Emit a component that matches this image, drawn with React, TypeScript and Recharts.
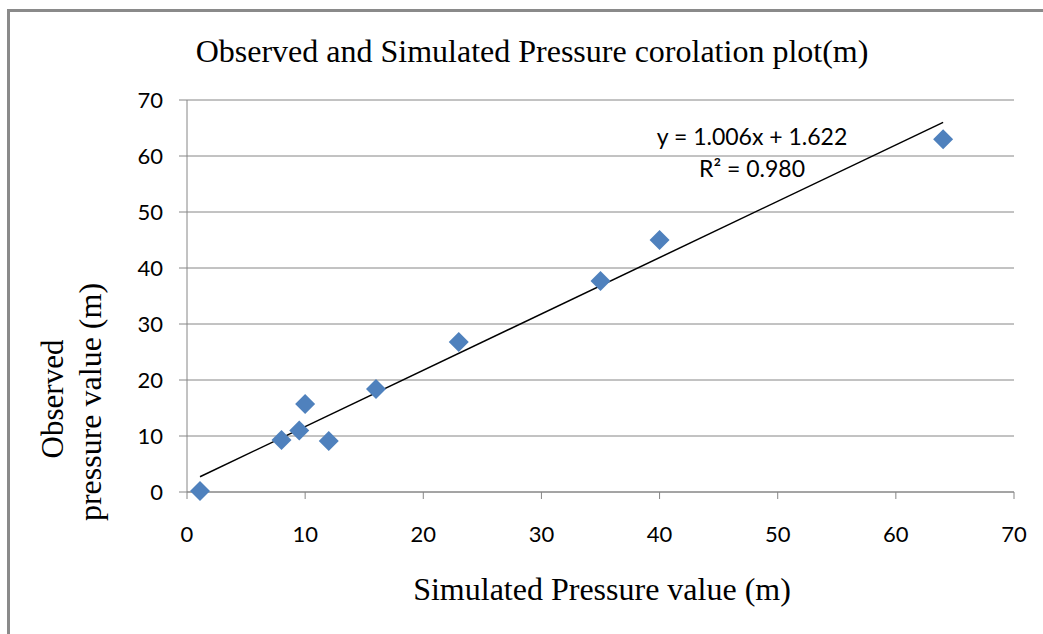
import React from 'react';
import { ScatterChart, Scatter, XAxis, YAxis, CartesianGrid, ReferenceLine } from 'recharts';

// values
const simulated = [1.1, 8, 9.5, 10, 12, 16, 23, 35, 40, 64];
const observed = [0.2, 9.3, 11, 15.7, 9.1, 18.4, 26.8, 37.7, 45, 63];
const axisTicks = [0, 10, 20, 30, 40, 50, 60, 70];
const slope = 1.006;
const intercept = 1.622;

const points = simulated.map((x, i) => ({ x, y: observed[i] }));
const xMin = Math.min(...simulated);
const xMax = Math.max(...simulated);
const trend = [
    { x: xMin, y: slope * xMin + intercept },
    { x: xMax, y: slope * xMax + intercept },
];

const GRID = '#868686';
const BLUE = '#4F81BD';
const SANS = 'Lato, Carlito, Calibri, sans-serif';
const SERIF = '"Liberation Serif", "Times New Roman", serif';

const Diamond = (props: any) => {
    const { cx, cy } = props;
    if (cx == null || cy == null) return null;
    const r = 10;
    return (
        <polygon
            points={`${cx},${cy - r} ${cx + r},${cy} ${cx},${cy + r} ${cx - r},${cy}`}
            fill={BLUE}
        />
    );
};

const App = () => {
    const tick = { fill: '#000', fontSize: 22, fontFamily: SANS };

    return (
        <div style={{ position: 'absolute', left: 0, top: 0, width: 1043, height: 634, background: '#fff', overflow: 'hidden' }}>
            <div
                style={{
                    position: 'absolute', left: 7, top: 9, width: 1100, height: 700,
                    borderLeft: '3px solid #8a8a8a', borderTop: '3px solid #8a8a8a',
                }}
            />
            <div style={{ position: 'absolute', left: 0, top: 0 }}>
                <ScatterChart width={1043} height={634} margin={{ top: 100, right: 29, bottom: 0, left: 0 }}>
                    <CartesianGrid stroke={GRID} vertical={false} />
                    <XAxis
                        type="number"
                        dataKey="x"
                        domain={[0, 70]}
                        ticks={axisTicks}
                        height={142}
                        stroke={GRID}
                        tickSize={7}
                        tickMargin={27}
                        tick={tick}
                    />
                    <YAxis
                        type="number"
                        dataKey="y"
                        domain={[0, 70]}
                        ticks={axisTicks}
                        width={187}
                        stroke={GRID}
                        tickSize={8}
                        tickMargin={16}
                        tick={tick}
                    />
                    <Scatter data={points} fill={BLUE} shape={Diamond} isAnimationActive={false} />
                    <ReferenceLine segment={trend} stroke="#000" strokeWidth={1.5} ifOverflow="visible" />
                </ScatterChart>
            </div>
            <svg width={1043} height={634} style={{ position: 'absolute', left: 0, top: 0, pointerEvents: 'none' }}>
                <text x={532} y={62} textAnchor="middle" fontFamily={SERIF} fontSize={32} fill="#000">
                    Observed and Simulated Pressure corolation plot(m)
                </text>
                <text x={602} y={600} textAnchor="middle" fontFamily={SERIF} fontSize={32} fill="#000">
                    Simulated Pressure value (m)
                </text>
                <text transform="translate(63,399) rotate(-90)" textAnchor="middle" fontFamily={SERIF} fontSize={31} fill="#000">
                    Observed
                </text>
                <text transform="translate(101,402) rotate(-90)" textAnchor="middle" fontFamily={SERIF} fontSize={32} fill="#000">
                    pressure value (m)
                </text>
                <text x={752} y={145} textAnchor="middle" fontFamily={SANS} fontSize={23} fill="#000">
                    y = 1.006x + 1.622
                </text>
                <text x={752} y={177} textAnchor="middle" fontFamily={SANS} fontSize={23} fill="#000">
                    R² = 0.980
                </text>
            </svg>
        </div>
    );
};

export default App;
